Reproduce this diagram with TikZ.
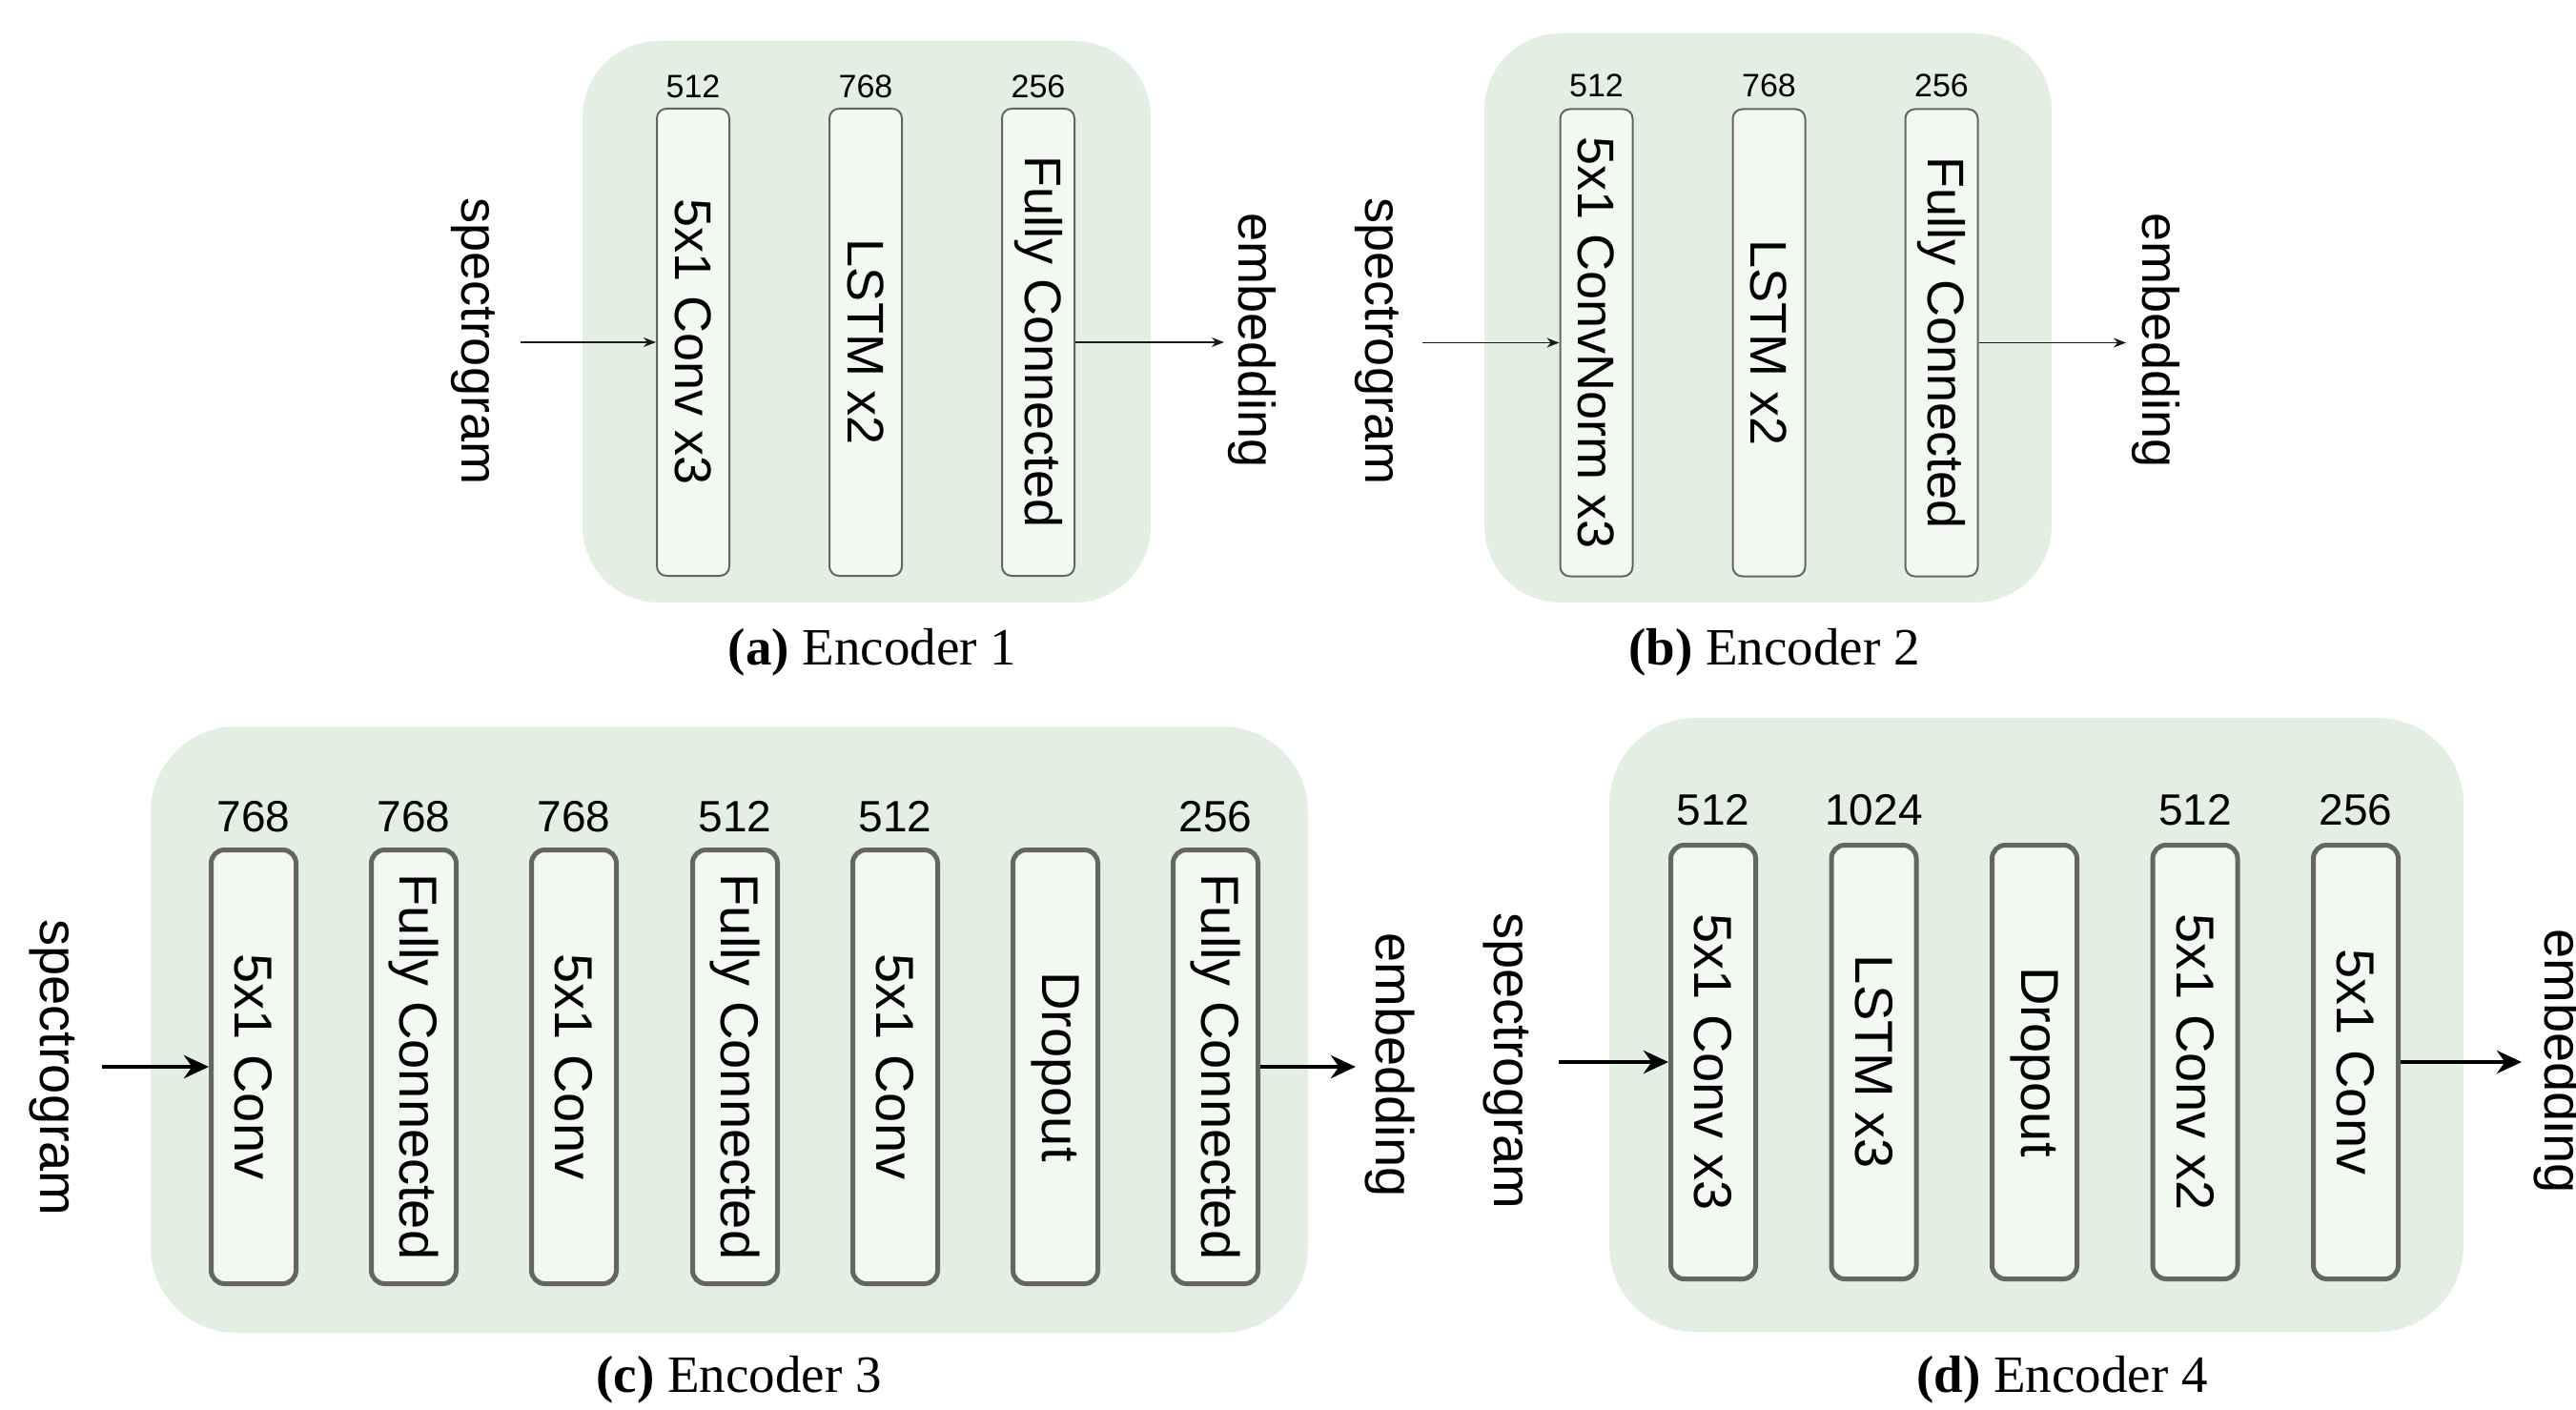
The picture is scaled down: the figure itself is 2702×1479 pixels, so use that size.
\documentclass[tikz,border=0pt]{standalone}
\usepackage{fontspec}
\usepackage{graphicx}
\newfontfamily\diagfont{Liberation Sans}
\newfontfamily\capfont{Liberation Serif}
\usetikzlibrary{arrows.meta}

\definecolor{panelgreen}{RGB}{227,239,227}
\definecolor{boxfill}{RGB}{243,248,243}
\definecolor{boxline}{RGB}{100,102,100}

\tikzset{
  panel/.style={fill=panelgreen, draw=none, rounded corners=#1, inner sep=0pt},
  thinbox/.style={draw=boxline, line width=2pt, fill=boxfill, rounded corners=10pt,
    minimum width=76pt, minimum height=490pt, inner sep=0pt,
    font=\diagfont\fontsize{54}{60}\selectfont},
  thickbox/.style={draw=boxline, line width=5pt, fill=boxfill, rounded corners=14pt,
    minimum width=89pt, minimum height=455pt, inner sep=0pt,
    font=\diagfont\fontsize{56}{62}\selectfont},
  smallnum/.style={anchor=base, inner sep=0pt, font=\diagfont\fontsize{34}{40}\selectfont},
  bignum/.style={anchor=base, inner sep=0pt, font=\diagfont\fontsize{46}{52}\selectfont},
  smallio/.style={rotate=-90, inner sep=0pt, font=\diagfont\fontsize{54}{60}\selectfont},
  bigio/.style={rotate=-90, inner sep=0pt, font=\diagfont\fontsize{56}{62}\selectfont},
  thinarrow/.style={-{Stealth[length=13pt,width=10pt]}, line width=1.8pt, draw=black!90},
  thickarrow/.style={-{Stealth[length=26pt,width=24pt]}, line width=4.5pt, draw=black},
  caption/.style={anchor=base, inner sep=0pt, font=\capfont\fontsize{55}{60}\selectfont},
}
\newcommand{\vtext}[1]{\rotatebox{-90}{#1}}

\begin{document}
\begin{tikzpicture}[x=1pt, y=-1pt]
\useasboundingbox (0,0) rectangle (2702,1479);

% ---------- (a) Encoder 1 ----------
\node[panel=80pt, minimum width=596pt, minimum height=589pt] (pa) at (909,337.5) {};
\node[thinbox] (a1) at (727,359) {\vtext{5x1 Conv x3}};
\node[thinbox] (a2) at (908,359) {\vtext{LSTM x2}};
\node[thinbox] (a3) at (1089,359) {\vtext{Fully Connected}};
\node[smallnum] (na1) at (727,103) {512};
\node[smallnum] (na2) at (908,103) {768};
\node[smallnum] (na3) at (1089,103) {256};
\node[smallio] (ina) at (496,358) {spectrogram};
\node[smallio] (outa) at (1313,357) {embedding};
\coordinate (sa) at (546,359);
\coordinate (ea) at (1284,359);
\draw[thinarrow] (sa) -- (a1.west);
\draw[thinarrow] (a3.east) -- (ea);
\node[caption] (capa) at (915,697) {\textbf{(a)} Encoder 1};

% ---------- (b) Encoder 2 ----------
\node[panel=80pt, minimum width=595pt, minimum height=597pt] (pb) at (1854.5,333.5) {};
\node[thinbox] (b1) at (1674.5,359.5) {\vtext{5x1 ConvNorm x3}};
\node[thinbox] (b2) at (1855.5,359.5) {\vtext{LSTM x2}};
\node[thinbox] (b3) at (2036.5,359.5) {\vtext{Fully Connected}};
\node[smallnum] (nb1) at (1674.5,102) {512};
\node[smallnum] (nb2) at (1855.5,102) {768};
\node[smallnum] (nb3) at (2036.5,102) {256};
\node[smallio] (inb) at (1444,358) {spectrogram};
\node[smallio] (outb) at (2261,357) {embedding};
\coordinate (sb) at (1492,359.5);
\coordinate (eb) at (2230,359.5);
\draw[thinarrow] (sb) -- (b1.west);
\draw[thinarrow] (b3.east) -- (eb);
\node[caption] (capb) at (1861,697) {\textbf{(b)} Encoder 2};

% ---------- (c) Encoder 3 ----------
\node[panel=90pt, minimum width=1214pt, minimum height=636pt] (pc) at (765,1080) {};
\node[thickbox] (c1) at (266,1119) {\vtext{5x1 Conv}};
\node[thickbox] (c2) at (434,1119) {\vtext{Fully Connected}};
\node[thickbox] (c3) at (602,1119) {\vtext{5x1 Conv}};
\node[thickbox] (c4) at (771,1119) {\vtext{Fully Connected}};
\node[thickbox] (c5) at (939,1119) {\vtext{5x1 Conv}};
\node[thickbox] (c6) at (1107,1119) {\vtext{Dropout}};
\node[thickbox] (c7) at (1275,1119) {\vtext{Fully Connected}};
\node[bignum] (nc1) at (266,872) {768};
\node[bignum] (nc2) at (434,872) {768};
\node[bignum] (nc3) at (602,872) {768};
\node[bignum] (nc4) at (771,872) {512};
\node[bignum] (nc5) at (939,872) {512};
\node[bignum] (nc7) at (1275,872) {256};
\node[bigio] (inc) at (55,1120) {spectrogram};
\node[bigio] (outc) at (1458,1117) {embedding};
\coordinate (sc) at (107,1119);
\coordinate (ec) at (1422,1119);
\draw[thickarrow] (sc) -- (c1.west);
\draw[thickarrow] (c7.east) -- (ec);
\node[caption] (capc) at (775,1460) {\textbf{(c)} Encoder 3};

% ---------- (d) Encoder 4 ----------
\node[panel=90pt, minimum width=896pt, minimum height=644pt] (pd) at (2136,1075) {};
\node[thickbox] (d1) at (1797,1114) {\vtext{5x1 Conv x3}};
\node[thickbox] (d2) at (1965.5,1114) {\vtext{LSTM x3}};
\node[thickbox] (d3) at (2134,1114) {\vtext{Dropout}};
\node[thickbox] (d4) at (2302.5,1114) {\vtext{5x1 Conv x2}};
\node[thickbox] (d5) at (2471,1114) {\vtext{5x1 Conv}};
\node[bignum] (nd1) at (1797,865) {512};
\node[bignum] (nd2) at (1965.5,865) {1024};
\node[bignum] (nd4) at (2302.5,865) {512};
\node[bignum] (nd5) at (2471,865) {256};
\node[bigio] (ind) at (1580,1113) {spectrogram};
\node[bigio] (outd) at (2684,1113) {embedding};
\coordinate (sd) at (1635,1114);
\coordinate (ed) at (2645,1114);
\draw[thickarrow] (sd) -- (d1.west);
\draw[thickarrow] (d5.east) -- (ed);
\node[caption] (capd) at (2163,1460) {\textbf{(d)} Encoder 4};
\end{tikzpicture}
\end{document}
